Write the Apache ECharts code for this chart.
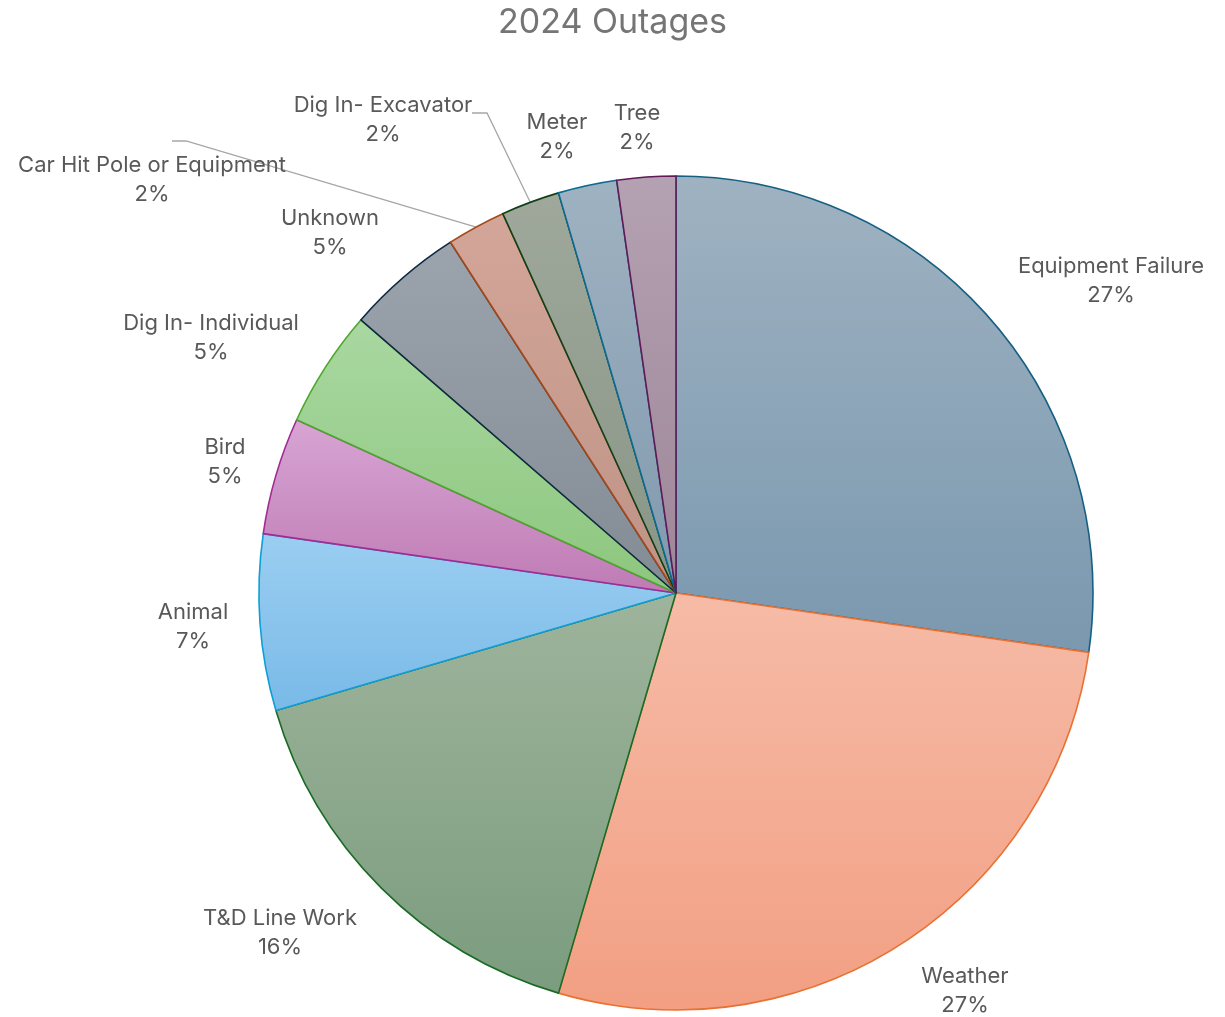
<!DOCTYPE html>
<html>
<head>
<meta charset="utf-8">
<title>2024 Outages</title>
<script src="https://cdn.jsdelivr.net/npm/echarts@6/dist/echarts.min.js"></script>
<style>
  html, body { margin: 0; padding: 0; background: #ffffff; }
  #chart { width: 1225px; height: 1017px; }
</style>
</head>
<body>
<div id="chart"></div>
<script>
// Outage causes for 2024 (counts), drawn clockwise from 12 o'clock
const causes = [
  'Equipment Failure', 'Weather', 'T&D Line Work', 'Animal', 'Bird',
  'Dig In- Individual', 'Unknown', 'Car Hit Pole or Equipment',
  'Dig In- Excavator', 'Meter', 'Tree'
];
const outageCounts = [12, 12, 7, 3, 2, 2, 2, 1, 1, 1, 1];

// Slice styling: outline colour and top/bottom gradient fill
const edgeColors = ['#156082', '#E97132', '#196B24', '#0F9ED5', '#A02B93', '#4EA72E',
                    '#0E2841', '#A5491A', '#0F4016', '#0B6A91', '#601A58'];
const fillTop    = ['#9FB2C1', '#F6BBA7', '#9EB49C', '#9BCEF1', '#D7A5D4', '#A9D8A1',
                    '#9BA4AC', '#D3A699', '#9FA89B', '#9FB2C1', '#B4A1B1'];
const fillBottom = ['#7A98AF', '#F29F83', '#7B9C7E', '#79BAE8', '#BF7BB4', '#8DC67E',
                    '#838C94', '#BF9287', '#889586', '#8199AE', '#9D8698'];

// Label placement (centre of each two-line label, in px)
const labelSpots = [
  [1111, 281], [965, 991], [280, 933], [193, 627], [225, 462], [211, 338],
  [330, 233], [152, 180], [383, 120], [557, 137], [637, 128]
];
// Which labels get a leader line, and the elbow of that line
const leaderElbows = { 7: [[186, 141], [172, 141]], 8: [[487, 113], [472, 113]] };

const chart = echarts.init(document.getElementById('chart'), null, { renderer: 'canvas' });

const seriesData = causes.map((name, i) => ({
  name: name,
  value: outageCounts[i],
  itemStyle: {
    color: new echarts.graphic.LinearGradient(0, 0, 0, 1, [
      { offset: 0, color: fillTop[i] },
      { offset: 1, color: fillBottom[i] }
    ]),
    borderColor: edgeColors[i],
    borderWidth: 1.6
  },
  labelLine: { show: leaderElbows[i] !== undefined }
}));

const FONT = 'Inter, "Noto Sans", "Open Sans", sans-serif';

chart.setOption({
  animation: false,
  backgroundColor: '#ffffff',
  title: {
    text: '2024 Outages',
    left: 'center',
    top: 1,
    textStyle: {
      fontFamily: FONT,
      fontSize: 34,
      fontWeight: 'normal',
      color: '#757575'
    }
  },
  series: [{
    type: 'pie',
    center: [676, 593],
    radius: [0, 417],
    startAngle: 90,
    clockwise: true,
    avoidLabelOverlap: false,
    minShowLabelAngle: 0,
    data: seriesData,
    label: {
      show: true,
      position: 'outside',
      formatter: function (p) { return p.name + '\n' + Math.round(p.percent) + '%'; },
      fontFamily: FONT,
      fontSize: 22,
      lineHeight: 29,
      color: '#595959',
      align: 'center'
    },
    labelLine: {
      show: false,
      length: 20,
      length2: 10,
      smooth: false,
      lineStyle: { color: '#A6A6A6', width: 1.3 }
    },
    labelLayout: function (params) {
      const i = params.dataIndex;
      const spot = labelSpots[i];
      const out = {
        x: spot[0],
        y: spot[1],
        align: 'center',
        verticalAlign: 'middle'
      };
      const elbow = leaderElbows[i];
      if (elbow && params.labelLinePoints) {
        out.labelLinePoints = [params.labelLinePoints[0], elbow[0], elbow[1]];
      }
      return out;
    },
    emphasis: { disabled: true }
  }]
});
</script>
</body>
</html>
